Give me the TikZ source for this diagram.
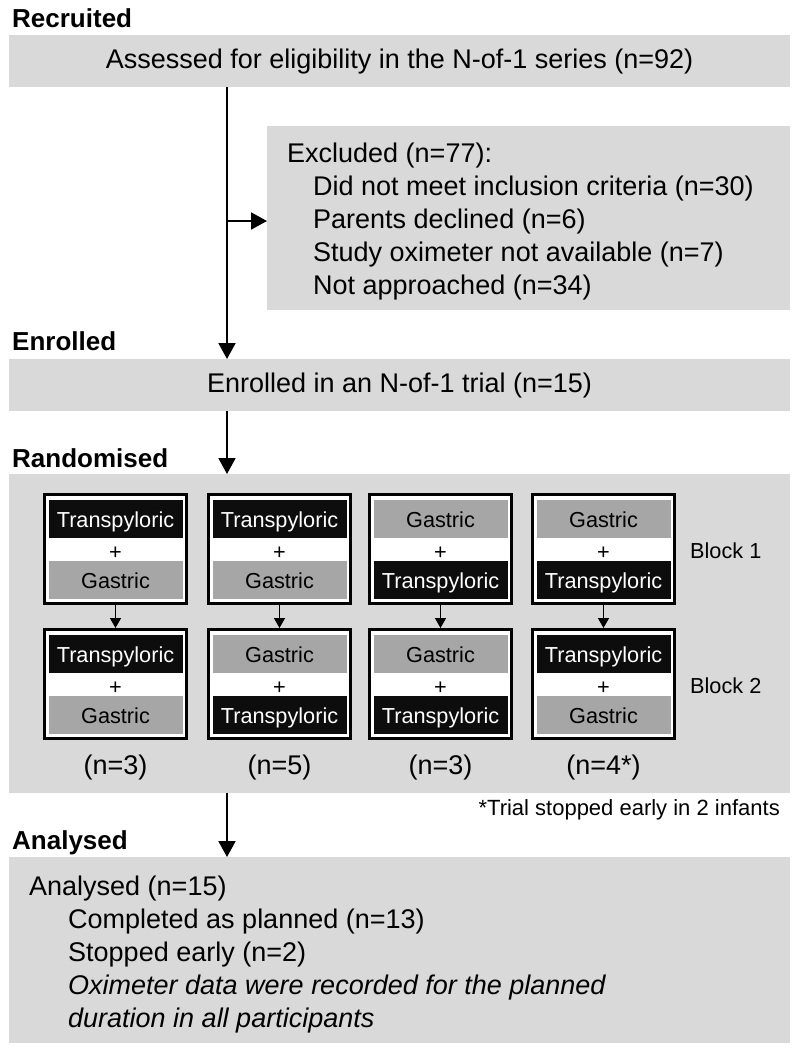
\documentclass[tikz,border=0pt]{standalone}
\usepackage{fontspec}
\setmainfont{Liberation Sans}
\usetikzlibrary{arrows.meta}
\definecolor{lgray}{HTML}{D9D9D9}
\definecolor{mgray}{HTML}{A6A6A6}
\definecolor{dblack}{HTML}{0D0D0D}
\newcommand{\mainsz}{\fontsize{27}{33}\selectfont}
\newcommand{\cellsz}{\fontsize{21.7}{26}\selectfont}
\newcommand{\notesz}{\fontsize{22}{26}\selectfont}
\newcommand{\headsz}{\fontsize{26}{30}\selectfont\bfseries}
\newcommand{\labT}{Transpyloric}
\newcommand{\labG}{Gastric}
\begin{document}
\begin{tikzpicture}[x=1pt,y=-1pt,
  graybox/.style={fill=lgray, draw=none, inner sep=0pt, outer sep=0pt, anchor=north west,
    font=\mainsz, text height=14pt, text depth=0pt},
  heading/.style={font=\headsz, anchor=base west, inner sep=0pt},
  txt/.style={font=\mainsz, anchor=base west, inner sep=0pt},
  conn/.style={line width=2pt, draw=black, -{Triangle[width=17pt,length=16pt]}},
  smallconn/.style={line width=1.5pt, draw=black, -{Triangle[width=11pt,length=10pt]}},
  armbox/.style={draw=black, line width=3pt, fill=white, minimum width=142pt,
    minimum height=109pt, inner sep=0pt, outer sep=1.5pt},
  cellT/.style={fill=dblack, text=white, font=\cellsz, minimum width=134pt,
    minimum height=38pt, inner sep=0pt, text height=16pt, text depth=0pt},
  cellG/.style={cellT, fill=mgray, text=black},
  plussign/.style={font=\cellsz, inner sep=0pt, text height=15.2pt, text depth=0pt},
  countlab/.style={font=\mainsz, anchor=base, inner sep=0pt},
  blocklab/.style={font=\cellsz, anchor=base west, inner sep=0pt},
]
\useasboundingbox (0,0) rectangle (800,1050);

% headings
\node[heading] (hRec) at (12,27) {Recruited};
\node[heading] (hEnr) at (12,350) {Enrolled};
\node[heading] (hRan) at (12,467) {Randomised};
\node[heading] (hAna) at (12,849) {Analysed};

% main boxes
\node[graybox, minimum width=781pt, minimum height=52pt] (recbox) at (9,35)
  {Assessed for eligibility in the N-of-1 series (n=92)};
\node[graybox, minimum width=523pt, minimum height=184pt] (exclbox) at (267,126) {};
\node[graybox, minimum width=781pt, minimum height=52pt] (enrbox) at (9,359)
  {Enrolled in an N-of-1 trial (n=15)};
\node[graybox, minimum width=781pt, minimum height=319pt] (randbox) at (9,474) {};
\node[graybox, minimum width=781pt, minimum height=186pt] (anbox) at (9,857) {};

% excluded text
\node[txt] (ex0) at (287,162) {Excluded (n=77):};
\node[txt] (ex1) at (313,195) {Did not meet inclusion criteria (n=30)};
\node[txt] (ex2) at (313,228) {Parents declined (n=6)};
\node[txt] (ex3) at (313,261) {Study oximeter not available (n=7)};
\node[txt] (ex4) at (313,294) {Not approached (n=34)};

% analysed text
\node[txt] (an0) at (29,895) {Analysed (n=15)};
\node[txt] (an1) at (68,928) {Completed as planned (n=13)};
\node[txt] (an2) at (68,961) {Stopped early (n=2)};
\node[txt] (an3) at (68,994) {\itshape Oximeter data were recorded for the planned};
\node[txt] (an4) at (68,1027) {\itshape duration in all participants};

% connectors of the main flow
\coordinate (tx) at (227,0);
\coordinate (brpt) at (227,221);
\draw[conn] (recbox.south -| tx) -- (enrbox.north -| tx);
\draw[conn] (brpt) -- (exclbox.west |- brpt);
\draw[conn] (enrbox.south -| tx) -- (randbox.north -| tx);
\draw[conn] (randbox.south -| tx) -- (anbox.north -| tx);

% randomised arms
\foreach \i/\cx/\pa/\pb/\qa/\qb/\nn in {
  1/115.5/T/G/T/G/{(n=3)},
  2/279.5/T/G/G/T/{(n=5)},
  3/440.5/G/T/G/T/{(n=3)},
  4/603.5/G/T/T/G/{(n=4*)}}{
  \node[armbox] (r1c\i) at (\cx,549) {};
  \node[cell\pa] (r1c\i-t) at (\cx,519) {\csname lab\pa\endcsname};
  \node[plussign] (r1c\i-p) at (\cx,552) {+};
  \node[cell\pb] (r1c\i-b) at (\cx,580) {\csname lab\pb\endcsname};
  \node[armbox] (r2c\i) at (\cx,684) {};
  \node[cell\qa] (r2c\i-t) at (\cx,654) {\csname lab\qa\endcsname};
  \node[plussign] (r2c\i-p) at (\cx,687) {+};
  \node[cell\qb] (r2c\i-b) at (\cx,715) {\csname lab\qb\endcsname};
  \draw[smallconn] (r1c\i.south) -- (r2c\i.north);
  \node[countlab] (cnt\i) at (\cx,774) {\nn};
}

\node[blocklab] (blk1) at (690,558) {Block 1};
\node[blocklab] (blk2) at (690,693) {Block 2};
\node[font=\notesz, anchor=base east, inner sep=0pt] (note) at (780,815)
  {*Trial stopped early in 2 infants};
\end{tikzpicture}
\end{document}
